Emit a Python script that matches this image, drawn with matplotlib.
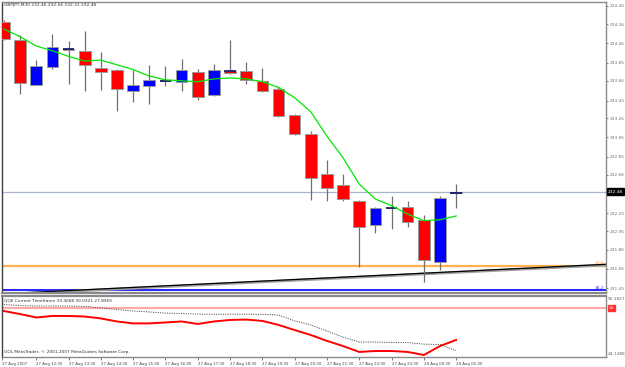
import matplotlib
matplotlib.use('Agg')
import matplotlib.pyplot as plt
import numpy as np

# ---------------- data ----------------
title_text = "GBPJPY,M30 232.46 232.56 232.31 232.48"
qqe_title = "QQE Current Timeframe 33.4668 30.0321 27.8969"
copyright_text = "OOL MetaTrader, \u00a9 2001-2007 MetaQuotes Software Corp."

opens  = [234.29, 234.09, 233.62, 233.81, 234.00, 233.98, 233.80, 233.77, 233.55, 233.60,
          233.66, 233.65, 233.75, 233.51, 233.76, 233.76, 233.66, 233.57, 233.30, 233.09,
          232.67, 232.55, 232.38, 232.12, 232.31, 232.32, 232.175, 231.73, 232.46]
highs  = [234.31, 234.15, 233.88, 234.16, 234.08, 234.19, 233.97, 233.79, 233.78, 233.83,
          233.82, 233.89, 233.79, 233.84, 234.09, 233.86, 233.80, 233.59, 233.31, 233.12,
          232.82, 232.67, 232.39, 232.32, 232.43, 232.38, 232.23, 232.43, 232.56]
lows   = [234.09, 233.52, 233.61, 233.79, 233.63, 233.55, 233.56, 233.34, 233.43, 233.41,
          233.60, 233.55, 233.46, 233.50, 233.73, 233.63, 233.54, 233.27, 233.08, 232.39,
          232.38, 232.38, 231.68, 232.04, 232.08, 232.10, 231.52, 231.65, 232.31]
closes = [234.11, 233.64, 233.82, 234.02, 233.985, 233.83, 233.75, 233.57, 233.62, 233.67,
          233.665, 233.77, 233.49, 233.78, 233.74, 233.67, 233.55, 233.28, 233.09, 232.62,
          232.52, 232.40, 232.10, 232.31, 232.31, 232.16, 231.75, 232.41, 232.48]
ma_values = [234.21, 234.13, 234.03, 233.98, 233.92, 233.87, 233.88, 233.83, 233.78, 233.71,
             233.67, 233.66, 233.65, 233.68, 233.69, 233.68, 233.65, 233.59, 233.48, 233.33,
             233.07, 232.84, 232.56, 232.40, 232.33, 232.24, 232.17, 232.18, 232.22]
qqe_rsi = [48.3, 46.7, 44.9, 45.7, 45.7, 45.4, 44.4, 42.8, 41.8, 41.8,
           42.3, 42.8, 41.5, 42.8, 43.6, 43.8, 43.1, 41.0, 38.3, 35.7,
           32.6, 29.9, 26.8, 27.3, 27.3, 26.8, 25.2, 29.9, 33.1]
qqe_trail = [51.7, 51.2, 50.9, 50.9, 50.9, 50.7, 49.9, 49.1, 48.3, 47.8,
             47.2, 47.0, 46.7, 46.6, 46.6, 46.6, 46.5, 46.2, 43.1, 41.0,
             37.8, 34.6, 32.0, 32.0, 31.8, 31.7, 30.9, 30.7, 27.5]
qqe_level = 50
qqe_top, qqe_bottom = 56.1827, 24.1488

current_price = 232.48
fib_236 = 231.69
fib_382 = 231.43
trend_x = [-0.25, 37.3]
trend_y = [231.39, 231.706]

time_labels = ["27 Aug 2007", "27 Aug 12:30", "27 Aug 13:30", "27 Aug 14:30", "27 Aug 15:30",
               "27 Aug 16:30", "27 Aug 17:30", "27 Aug 18:30", "27 Aug 19:30", "27 Aug 20:30",
               "27 Aug 21:30", "27 Aug 22:30", "27 Aug 23:30", "28 Aug 00:30", "28 Aug 01:30"]
time_label_idx = [-0.1, 2, 4, 6, 8, 10, 12, 14, 16, 18, 20, 22, 24, 26, 28]
price_tick_labels = ["234.46", "234.26", "234.06", "233.85", "233.66", "233.45", "233.26",
                     "233.06", "232.85", "232.66", "232.25", "232.06", "231.86", "231.66", "231.45"]

# ---------------- figure ----------------
W, H = 625, 367
fig = plt.figure(figsize=(W / 100, H / 100), dpi=100)
fig.patch.set_facecolor('white')

def frac(x0, y0, x1, y1):
    return [x0 / W, 1 - y1 / H, (x1 - x0) / W, (y1 - y0) / H]

ax = fig.add_axes(frac(2, 2, 606, 293))
ax2 = fig.add_axes(frac(2, 296, 606, 357))

xlim = (-0.12, 37.28)
ax.set_xlim(*xlim)
ax2.set_xlim(*xlim)
ax.set_ylim(231.400, 234.499)
ax2.set_ylim(qqe_bottom, qqe_top)

for a in (ax, ax2):
    a.set_facecolor('white')
    for s in a.spines.values():
        s.set_color('#8a8a8a')
        s.set_linewidth(1.0)
    a.spines['left'].set_color('#404040')
    a.tick_params(axis='both', which='both', length=0, labelsize=3.1, colors='#555555')

ax.spines['bottom'].set_linewidth(1.6)
ax2.spines['top'].set_linewidth(1.6)

x = np.arange(len(opens))
o = np.array(opens); c = np.array(closes)
hi = np.array(highs); lo = np.array(lows)

# horizontal lines (behind candles)
ax.axhline(current_price, color='#a8b4c8', lw=0.9, zorder=1)
ax.axhline(fib_236, color='#ffb050', lw=1.6, zorder=1)
ax.axhline(fib_382, color='#0000ff', lw=1.2, zorder=1)
ax.plot(trend_x, np.array(trend_y) - 0.008, color='#a0a0a0', lw=2.0, zorder=1.5)
ax.plot(trend_x, trend_y, color='#000000', lw=0.9, zorder=1.6)

# wicks
ax.vlines(x, lo, hi, color='#707070', lw=0.9, zorder=2)
# bodies
colors = []
for oo, cc in zip(o, c):
    if abs(cc - oo) < 0.006:
        colors.append('#101060')
    elif cc > oo:
        colors.append('#0000ff')
    else:
        colors.append('#ff0000')
ax.bar(x, c - o, bottom=o, width=0.72, color=colors, edgecolor='#9a9a9a', linewidth=0.7, zorder=3)
for i in range(len(x)):
    if abs(c[i] - o[i]) < 0.025:
        ax.hlines(o[i], x[i] - 0.36, x[i] + 0.36, color='#101060', lw=1.2, zorder=4)

# moving average
ax.plot(x, ma_values, color='#00e600', lw=0.9, zorder=5)

# right axis labels (main)
ax.yaxis.tick_right()
ax.set_yticks([float(t) for t in price_tick_labels])
ax.set_yticklabels(price_tick_labels)
ax.tick_params(axis='y', length=1.5, width=0.6, pad=1.5, colors='#606060', labelcolor='#707070')
ax.set_xticks([])

ax.text(1.0 + 2 / 604, current_price, "232.48", transform=ax.get_yaxis_transform(),
        fontsize=3.2, color='white', va='center', ha='left',
        bbox=dict(boxstyle='square,pad=0.25', fc='black', ec='black'), zorder=10, clip_on=False)
ax.text(1.0 - 2 / 604, fib_382 + 0.005, "38.2", transform=ax.get_yaxis_transform(),
        fontsize=3.2, color='#4040ff', va='bottom', ha='right')
ax.text(1.0 - 2 / 604, fib_236 + 0.005, "23.6", transform=ax.get_yaxis_transform(),
        fontsize=3.2, color='#ff9a30', va='bottom', ha='right')

ax.text(0.003, 0.995, title_text, transform=ax.transAxes, fontsize=3.2,
        color='#303030', va='top', ha='left')

# indicator panel
ax2.axhline(qqe_level, color='#ffaaaa', lw=1.6, zorder=1)
ax2.plot(x, qqe_trail, color='#555555', lw=0.7, ls=(0, (1.2, 1.2)), zorder=2)
ax2.plot(x, qqe_rsi, color='#ff0000', lw=1.4, zorder=3)
ax2.set_yticks([])
ax2.text(0.003, 0.96, qqe_title, transform=ax2.transAxes, fontsize=3.1,
         color='#303030', va='top', ha='left')
ax2.text(0.003, 0.05, copyright_text, transform=ax2.transAxes, fontsize=3.1,
         color='#303030', va='bottom', ha='left')
ax2.text(1.0 + 2 / 604, 0.99, f"{qqe_top:.4f}", transform=ax2.transAxes, fontsize=3.1,
         color='#606060', va='top', ha='left')
ax2.text(1.0 + 2 / 604, 0.01, f"{qqe_bottom:.4f}", transform=ax2.transAxes, fontsize=3.1,
         color='#606060', va='bottom', ha='left')
ax2.text(1.0 + 3 / 604, qqe_level, f"{qqe_level}", transform=ax2.get_yaxis_transform(),
         fontsize=3.1, color='white', va='center', ha='left',
         bbox=dict(boxstyle='square,pad=0.2', fc='#ff3030', ec='#ff3030'), clip_on=False)

ax2.set_xticks(time_label_idx)
ax2.set_xticklabels(time_labels, ha='left')
ax2.tick_params(axis='x', length=2, width=0.6, pad=1.5, labelsize=2.8, colors='#606060',
                labelcolor='#404040')

fig.savefig('out.png', dpi=100, facecolor='white')
